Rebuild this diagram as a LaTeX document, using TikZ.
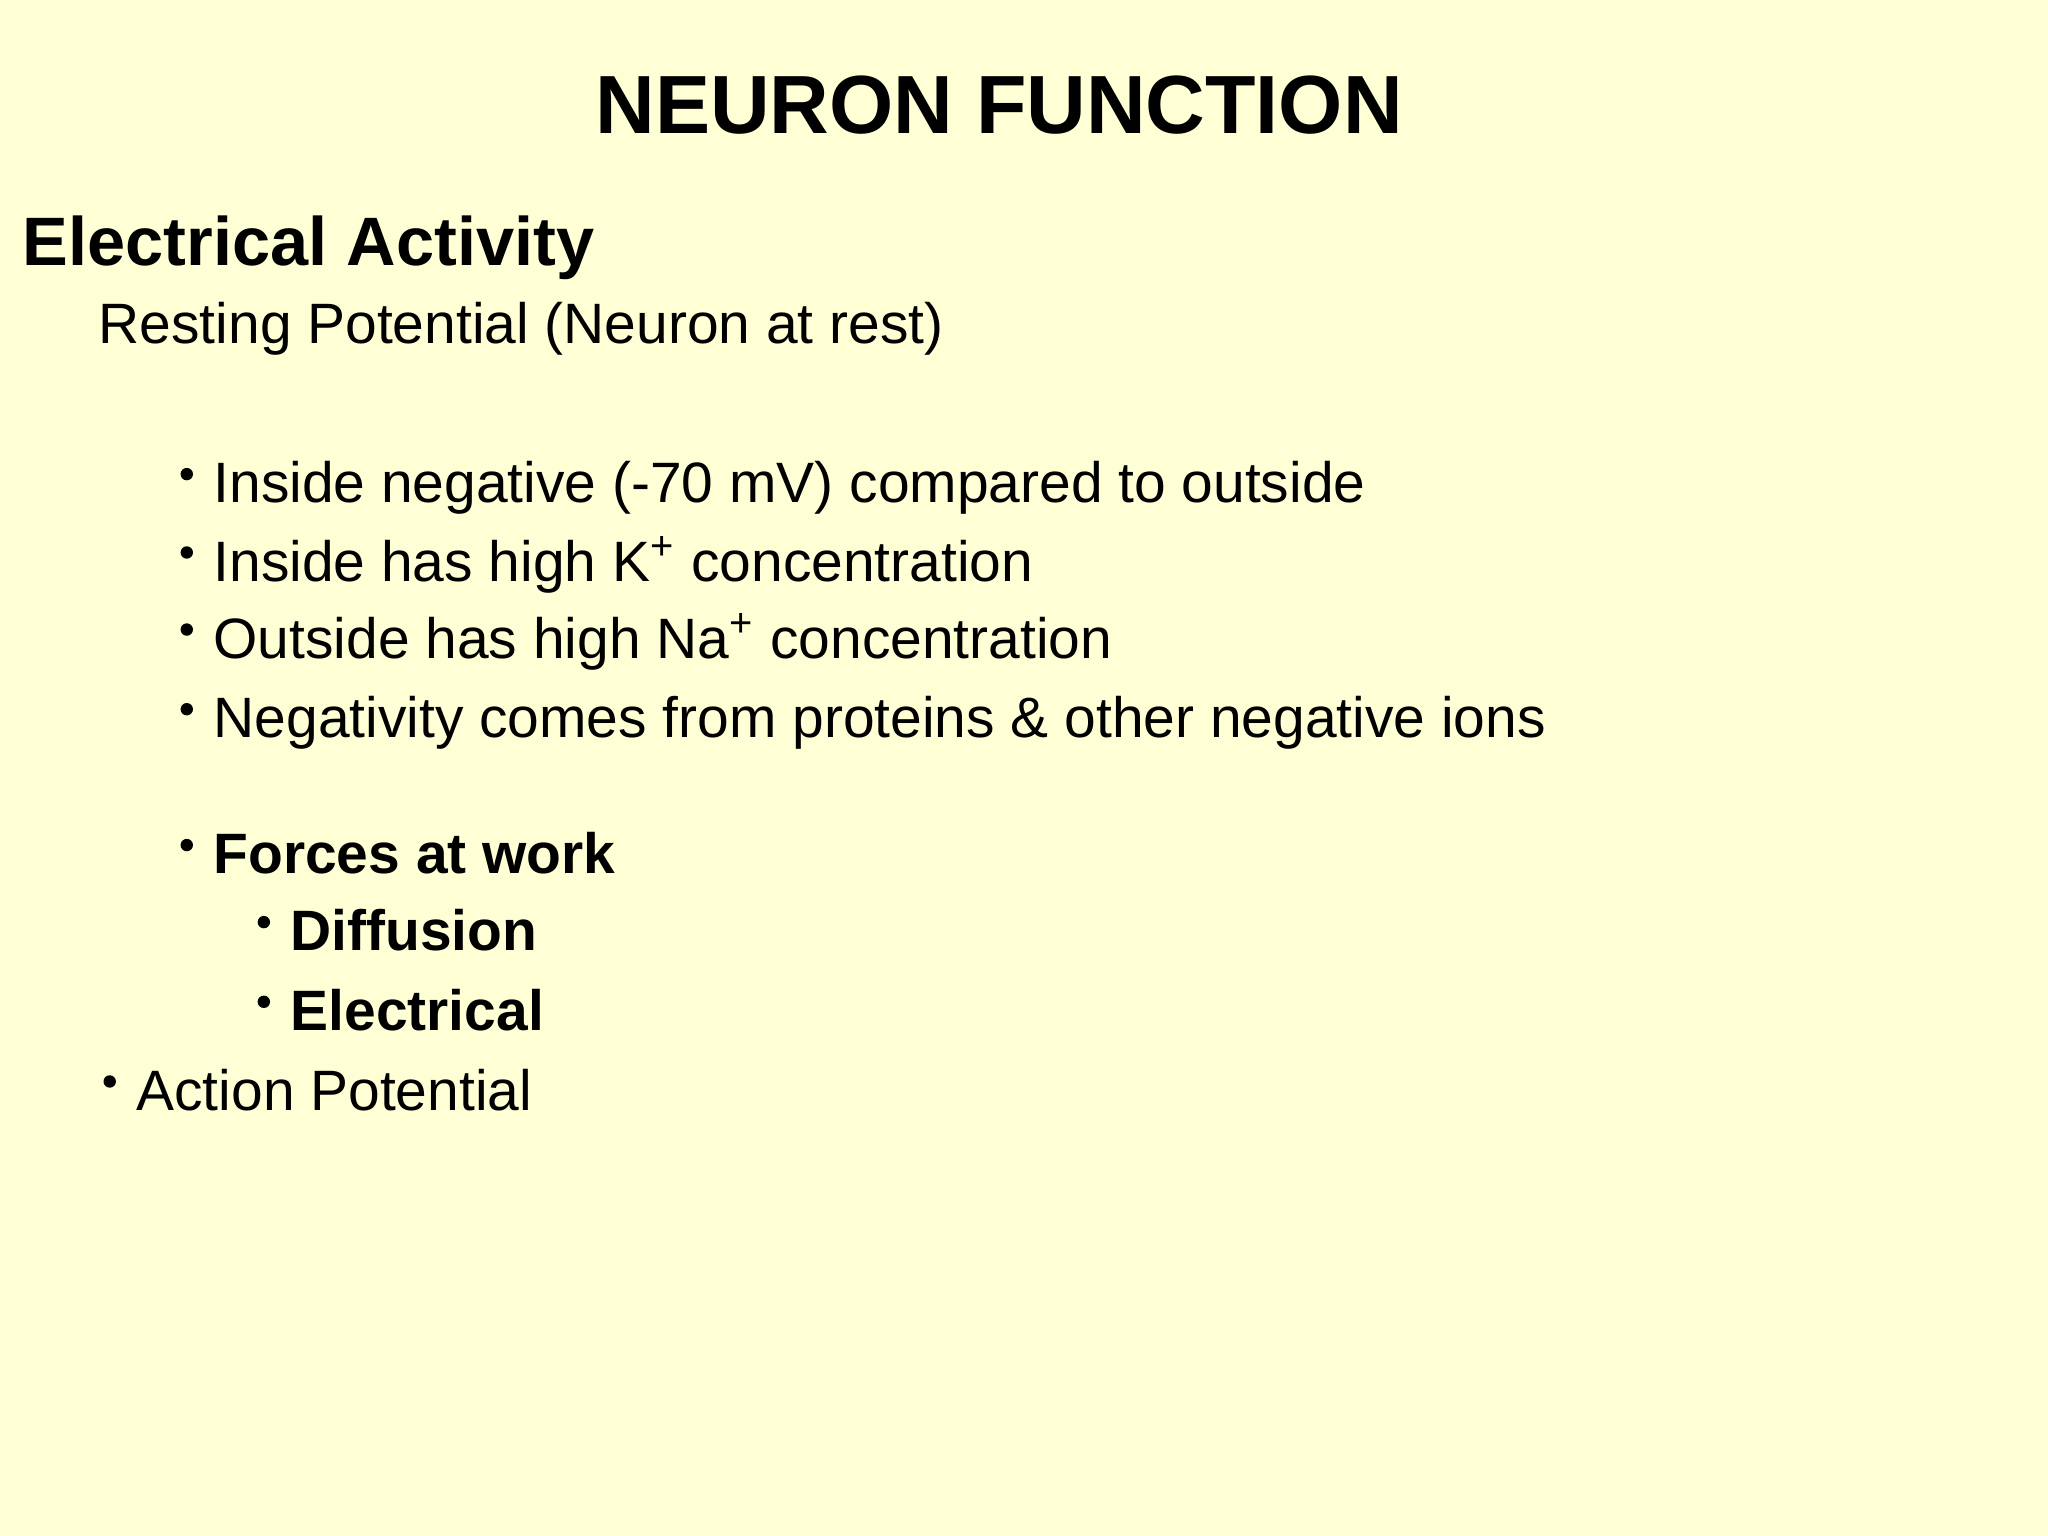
\documentclass[tikz,border=0pt]{standalone}
\usepackage{fontspec}
\setmainfont{Liberation Sans}
\definecolor{bg}{HTML}{FFFFD6}
\begin{document}
\begin{tikzpicture}[x=0.01306cm,y=-0.01306cm,
  txt/.style={anchor=base west,inner sep=0pt,font=\fontsize{16.2}{19}\selectfont},
  dotb/.style={fill=black,draw=none,circle,inner sep=0pt,minimum size=9.5*0.01306cm}]
\fill[bg] (0,0) rectangle (1568,1176);
\useasboundingbox (0,0) rectangle (1568,1176);
\node[anchor=base,inner sep=0pt,font=\fontsize{23.5}{28}\selectfont\bfseries] (title) at (765,102) {NEURON FUNCTION};
\node[anchor=base west,inner sep=0pt,font=\fontsize{19.5}{23}\selectfont\bfseries] (ea) at (17,203) {Electrical Activity};
\node[txt] (rp) at (75,263) {Resting Potential (Neuron at rest)};
\foreach \n/\y/\t in {b1/385/{Inside negative (-70 mV) compared to outside},
  b2/445/{Inside has high K\textsuperscript{+} concentration},
  b3/504/{Outside has high Na\textsuperscript{+} concentration},
  b4/565/{Negativity comes from proteins \& other negative ions},
  b5/669/{\bfseries Forces at work}}{
  \node[dotb] (\n d) at (143,\y-22) {};
  \node[txt] (\n) at (163,\y) {\t};
}
\node[dotb] (s1d) at (202,706) {};
\node[txt] (s1) at (222,728) {\bfseries Diffusion};
\node[dotb] (s2d) at (202,767) {};
\node[txt] (s2) at (222,789) {\bfseries Electrical};
\node[dotb] (apd) at (84,828) {};
\node[txt] (ap) at (104,850) {Action Potential};
\end{tikzpicture}
\end{document}
